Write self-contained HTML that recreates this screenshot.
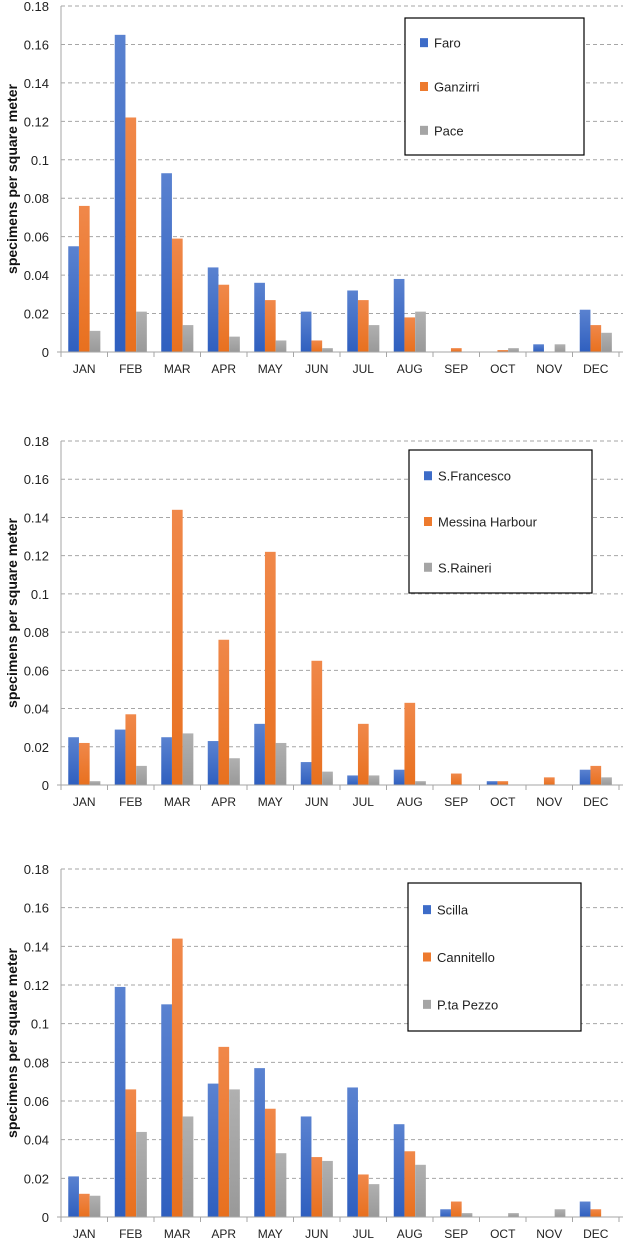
<!DOCTYPE html>
<html><head><meta charset="utf-8"><style>
body{margin:0;background:#fff;width:628px;height:1241px;overflow:hidden}
svg{display:block;font-family:"Liberation Sans",Arial,sans-serif}
</style></head><body>
<svg id="s" width="628" height="1241">
<defs>
<linearGradient id="gb" x1="0" y1="0" x2="0" y2="1"><stop offset="0" stop-color="#5a82d0"/><stop offset="1" stop-color="#2f5fbf"/></linearGradient>
<linearGradient id="go" x1="0" y1="0" x2="0" y2="1"><stop offset="0" stop-color="#f0884a"/><stop offset="1" stop-color="#e8701e"/></linearGradient>
<linearGradient id="gg" x1="0" y1="0" x2="0" y2="1"><stop offset="0" stop-color="#b0b0b0"/><stop offset="1" stop-color="#999"/></linearGradient>
</defs>
</svg>
<script>
const months=["JAN","FEB","MAR","APR","MAY","JUN","JUL","AUG","SEP","OCT","NOV","DEC"];
const yTicks=[0,0.02,0.04,0.06,0.08,0.1,0.12,0.14,0.16,0.18];
const yTickLabels=["0","0.02","0.04","0.06","0.08","0.1","0.12","0.14","0.16","0.18"];
const c1Names=["Faro","Ganzirri","Pace"];
const c1Faro=[0.055,0.165,0.093,0.044,0.036,0.021,0.032,0.038,0,0,0.004,0.022];
const c1Ganzirri=[0.076,0.122,0.059,0.035,0.027,0.006,0.027,0.018,0.002,0.001,0,0.014];
const c1Pace=[0.011,0.021,0.014,0.008,0.006,0.002,0.014,0.021,0,0.002,0.004,0.010];
const c2Names=["S.Francesco","Messina Harbour","S.Raineri"];
const c2SFrancesco=[0.025,0.029,0.025,0.023,0.032,0.012,0.005,0.008,0,0.002,0,0.008];
const c2Messina=[0.022,0.037,0.144,0.076,0.122,0.065,0.032,0.043,0.006,0.002,0.004,0.010];
const c2SRaineri=[0.002,0.010,0.027,0.014,0.022,0.007,0.005,0.002,0,0,0,0.004];
const c3Names=["Scilla","Cannitello","P.ta Pezzo"];
const c3Scilla=[0.021,0.119,0.110,0.069,0.077,0.052,0.067,0.048,0.004,0,0,0.008];
const c3Cannitello=[0.012,0.066,0.144,0.088,0.056,0.031,0.022,0.034,0.008,0,0,0.004];
const c3Pezzo=[0.011,0.044,0.052,0.066,0.033,0.029,0.017,0.027,0.002,0.002,0.004,0];

const svg=document.getElementById('s');
const NS="http://www.w3.org/2000/svg";
function mk(t,a,p){const e=document.createElementNS(NS,t);for(const k in a)e.setAttribute(k,a[k]);(p||svg).appendChild(e);return e;}
const fills=["url(#gb)","url(#go)","url(#gg)"];
const lfills=["#3d6cc8","#ed7a2e","#a5a5a5"];
function chart(id,top,bottom,names,series,leg){
  const g=mk('g',{});
  
  
  const x0=61,x1=619,cw=(x1-x0)/12;
  const y=v=>bottom-(v/0.18)*(bottom-top);
  yTicks.forEach((t,i)=>{
    if(i>0){const l=mk('line',{x1:x0,x2:x1+4,y1:y(t),y2:y(t),stroke:'#a6a6a6','stroke-dasharray':'4,3','stroke-width':1},g);
      }
    const tx=mk('text',{x:49,y:y(t)+5,'text-anchor':'end','font-size':13,fill:'#222'},g);
    tx.textContent=yTickLabels[i];
    
  });
  series.forEach((s,si)=>{
    s.forEach((v,i)=>{
      const cx=x0+cw*(i+0.5);
      const bx=cx-16+si*10.7;
      const r=mk('rect',{x:bx,y:y(v),width:10.7,height:bottom-y(v),fill:fills[si]},g);
      
      
    });
  });
  mk('line',{x1:x0,x2:x0,y1:top,y2:bottom,stroke:'#a6a6a6'},g);
  mk('line',{x1:x0-4,x2:x1+4,y1:bottom,y2:bottom,stroke:'#a6a6a6'},g);
  for(let i=0;i<=12;i++)mk('line',{x1:x0+cw*i,x2:x0+cw*i,y1:bottom,y2:bottom+5,stroke:'#a6a6a6'},g);
  months.forEach((m,i)=>{
    const t=mk('text',{x:x0+cw*(i+0.5),y:bottom+21,'text-anchor':'middle','font-size':12,fill:'#222'},g);
    t.textContent=m;
    
  });
  const yc=(top+bottom)/2;
  const at=mk('text',{x:17,y:yc,'text-anchor':'middle','font-size':14,'font-weight':'bold',fill:'#111',transform:`rotate(-90 17 ${yc})`},g);
  at.textContent='specimens per square meter';
  
  const lg=mk('g',{},g);
  
  mk('rect',{x:leg[0],y:leg[1],width:leg[2],height:leg[3],fill:'#fff',stroke:'#000','stroke-width':1.2},lg);
  names.forEach((n,i)=>{
    const yy=leg[1]+leg[3]*(0.18+0.32*i);
    const sq=mk('rect',{x:leg[0]+15,y:yy-4.5,width:8,height:9,fill:lfills[i]},lg);
    
    const t=mk('text',{x:leg[0]+29,y:yy+5,'font-size':13,fill:'#222'},lg);
    t.textContent=n;
    
  });
}
chart('chart-north',6,352,c1Names,[c1Faro,c1Ganzirri,c1Pace],[405,18,179,137]);
chart('chart-messina',441,785,c2Names,[c2SFrancesco,c2Messina,c2SRaineri],[409,450,183,143]);
chart('chart-calabria',869,1217,c3Names,[c3Scilla,c3Cannitello,c3Pezzo],[408,883,173,148]);
</script>
</body></html>
